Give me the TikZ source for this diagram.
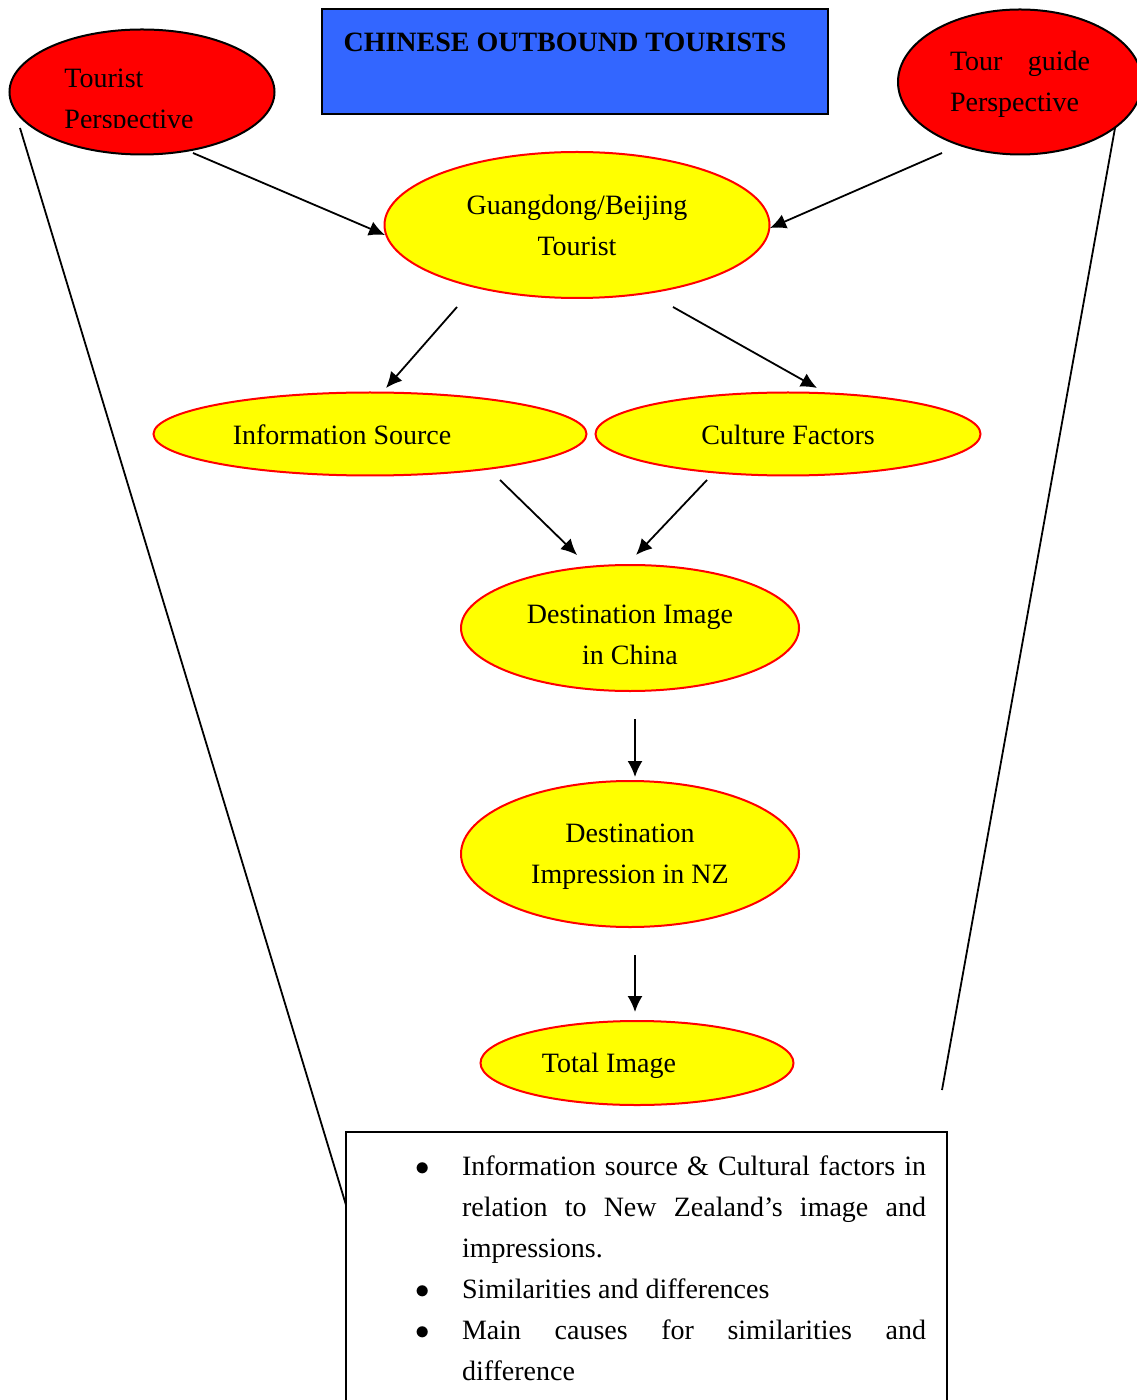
\documentclass[tikz,border=0pt]{standalone}
\usepackage{fontspec}
\setmainfont{Liberation Serif}
\usetikzlibrary{shapes.geometric,arrows.meta}

\definecolor{viewred}{HTML}{FF0000}
\definecolor{factoryellow}{HTML}{FFFF00}
\definecolor{titleblue}{HTML}{3366FF}

% one bullet line of the box at the bottom
\newcommand{\aimitem}{\par\noindent\hangindent=22.5pt\hangafter=0\llap{$\bullet$\hspace{16pt}}}

\begin{document}
\begin{tikzpicture}
		[x=0.5pt,y=-0.5pt,every node/.style={inner sep=0pt,outer sep=0pt,font=\fontsize{14}{20.5}\selectfont},
		view/.style={ellipse,draw=black,fill=viewred,line width=1pt},
		factor/.style={ellipse,draw=viewred,fill=factoryellow,line width=1pt,align=center},
		edge/.style={-{Latex[length=8pt,width=7.5pt]},line width=0.9pt}]
		\useasboundingbox (0,0) rectangle (1136,1400);
		
		\node[draw,fill=titleblue,line width=1.1pt,minimum width=253pt,minimum height=52.5pt] (title) at (575,61.5) {};
		\node[font=\fontsize{14}{20.5}\selectfont\bfseries] (title-txt) at (565,42) {CHINESE OUTBOUND TOURISTS};
		
		\node[view,minimum width=132.5pt,minimum height=62.5pt] (tourist) at (142,92) {};
		\begin{scope}
		\clip (0,0) rectangle (1136,128);
		\node[align=left] (tourist-txt) at (129,102) {Tourist\\Perspective};
		\end{scope}
		\node[view,minimum width=122pt,minimum height=72.5pt] (guide) at (1020,82) {};
		\node[anchor=west,text width=70pt,align=left] (guide-txt) at (950,84) {Tour\hfill guide\\Perspective};
		
		\node[factor,minimum width=192.5pt,minimum height=73pt] (tourist-gb) at (577,225) {Guangdong/Beijing\\Tourist};
		\node[factor,minimum width=216.5pt,minimum height=41.5pt] (info) at (370,434) {};
		\node (info-txt) at (342,435) {Information Source};
		\node[factor,minimum width=192.5pt,minimum height=41.5pt] (culture) at (788,434) {};
		\node (culture-txt) at (788,435) {Culture Factors};
		\node[factor,minimum width=169pt,minimum height=63pt] (image-cn) at (630,628) {};
		\node[align=center] (image-cn-txt) at (630,635) {Destination Image\\in China};
		\node[factor,minimum width=169pt,minimum height=73pt] (impress-nz) at (630,854) {};
		\node[align=center] (impress-nz-txt) at (630,857) {Destination\\Impression in NZ};
		\node[factor,minimum width=156.5pt,minimum height=42pt] (total) at (637,1063) {};
		\node (total-txt) at (609,1066) {Total Image};
		
		\node[draw,line width=1pt,anchor=north west,minimum width=300.5pt,minimum height=150pt] (aims) at (346,1132) {};
		\node[anchor=north west,text width=254.5pt,align=justify] (aims-txt) at (417,1134) {%
			\aimitem Information source \& Cultural factors in\linebreak relation to New Zealand’s image and\linebreak impressions.
			\aimitem Similarities and differences
			\aimitem Main causes for similarities and\linebreak difference\par};
		
		\coordinate (tourist-out) at (193,153);
		\coordinate (gb-in-w) at (385,235);
		\coordinate (guide-out) at (942,153);
		\coordinate (gb-in-e) at (770,228);
		\coordinate (gb-out-w) at (457,307);
		\coordinate (info-in) at (386,388);
		\coordinate (gb-out-e) at (673,307);
		\coordinate (culture-in) at (817,388);
		\coordinate (info-out) at (500,480);
		\coordinate (cn-in-w) at (577,555);
		\coordinate (culture-out) at (707,480);
		\coordinate (cn-in-e) at (636,555);
		\coordinate (cn-out) at (635,719);
		\coordinate (nz-in) at (635,777);
		\coordinate (nz-out) at (635,955);
		\coordinate (total-in) at (635,1012);
		\coordinate (tourist-sw) at (20,128);
		\coordinate (aims-w) at (346,1205);
		\coordinate (guide-se) at (1115,128);
		\coordinate (guide-end) at (942,1090);
		
		\foreach \from/\to in {tourist-out/gb-in-w,guide-out/gb-in-e,gb-out-w/info-in,gb-out-e/culture-in,info-out/cn-in-w,culture-out/cn-in-e,cn-out/nz-in,nz-out/total-in}
		\draw[edge] (\from) -- (\to);
		\foreach \from/\to in {tourist-sw/aims-w,guide-se/guide-end}
		\draw[line width=0.9pt] (\from) -- (\to);
		\end{tikzpicture}
\end{document}
